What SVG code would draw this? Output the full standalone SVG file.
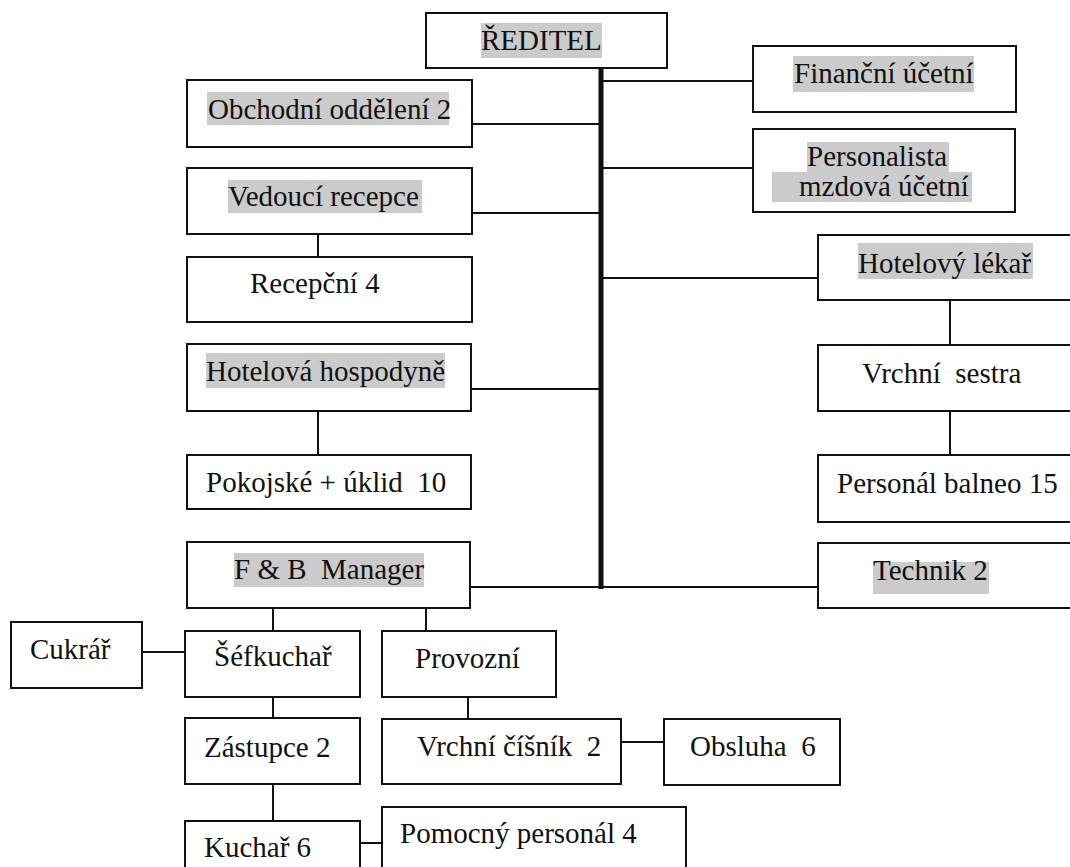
<svg xmlns="http://www.w3.org/2000/svg" width="1070" height="867" viewBox="0 0 1070 867">
<style>
.box{fill:#fff;stroke:#111;stroke-width:2}
.hl{fill:#cbcbcb}
text{font-family:"Liberation Serif","Times New Roman",serif;font-size:29px;fill:#111}
.c{stroke:#111;stroke-width:2;fill:none}
.thick{stroke:#111;stroke-width:5;fill:none}
</style>
<rect width="1070" height="867" fill="#fff"/>
<g id="connectors">
<line class="thick" x1="601" y1="68" x2="601" y2="589"/>
<line class="c" x1="601" y1="81" x2="753" y2="81"/>
<line class="c" x1="472" y1="124" x2="601" y2="124"/>
<line class="c" x1="601" y1="168" x2="753" y2="168"/>
<line class="c" x1="472" y1="213" x2="601" y2="213"/>
<line class="c" x1="601" y1="278" x2="818" y2="278"/>
<line class="c" x1="471" y1="389" x2="601" y2="389"/>
<line class="c" x1="470" y1="587" x2="818" y2="587"/>
<line class="c" x1="318" y1="234" x2="318" y2="257"/>
<line class="c" x1="318" y1="411" x2="318" y2="455"/>
<line class="c" x1="950" y1="300" x2="950" y2="345"/>
<line class="c" x1="950" y1="411" x2="950" y2="455"/>
<line class="c" x1="273" y1="608" x2="273" y2="631"/>
<line class="c" x1="426" y1="608" x2="426" y2="631"/>
<line class="c" x1="142" y1="652" x2="185" y2="652"/>
<line class="c" x1="273" y1="697" x2="273" y2="718"/>
<line class="c" x1="273" y1="784" x2="273" y2="821"/>
<line class="c" x1="468" y1="697" x2="468" y2="719"/>
<line class="c" x1="621" y1="742" x2="664" y2="742"/>
<line class="c" x1="360" y1="843" x2="382" y2="843"/>
</g>
<g id="reditel"><rect class="box" x="426" y="13" width="241" height="55"/><rect class="hl" x="481" y="23" width="121" height="35"/><text x="481" y="50">ŘEDITEL</text></g>
<g id="obchodni"><rect class="box" x="187" y="80" width="285" height="67"/><rect class="hl" x="207" y="92" width="242" height="33"/><text x="208" y="119">Obchodní oddělení 2</text></g>
<g id="vedouci-recepce"><rect class="box" x="187" y="168" width="285" height="66"/><rect class="hl" x="228" y="180" width="194" height="33"/><text x="228" y="206">Vedoucí recepce</text></g>
<g id="recepcni"><rect class="box" x="187" y="257" width="285" height="65"/><text x="250" y="293">Recepční 4</text></g>
<g id="hospodyne"><rect class="box" x="187" y="344" width="284" height="67"/><rect class="hl" x="206" y="353" width="239" height="35"/><text x="206" y="381">Hotelová hospodyně</text></g>
<g id="pokojske"><rect class="box" x="187" y="455" width="284" height="54"/><text x="206" y="492">Pokojské + úklid&#160; 10</text></g>
<g id="fb-manager"><rect class="box" x="187" y="542" width="283" height="66"/><rect class="hl" x="234" y="553" width="190" height="34"/><text x="234" y="579">F &amp; B&#160; Manager</text></g>
<g id="financni"><rect class="box" x="753" y="46" width="263" height="66"/><rect class="hl" x="793" y="56" width="181" height="36"/><text x="794" y="83">Finanční účetní</text></g>
<g id="personalista"><rect class="box" x="753" y="129" width="262" height="83"/><rect class="hl" x="807" y="142" width="142" height="30"/><rect class="hl" x="772" y="172" width="200" height="30"/><text x="807" y="166">Personalista</text><text x="799" y="196">mzdová účetní</text></g>
<g id="lekar"><rect class="box" x="818" y="235" width="270" height="65"/><rect class="hl" x="858" y="243" width="175" height="36"/><text x="858" y="273">Hotelový lékař</text></g>
<g id="sestra"><rect class="box" x="818" y="345" width="270" height="66"/><text x="862" y="383">Vrchní&#160; sestra</text></g>
<g id="balneo"><rect class="box" x="818" y="455" width="270" height="67"/><text x="837" y="493">Personál balneo 15</text></g>
<g id="technik"><rect class="box" x="818" y="543" width="270" height="65"/><rect class="hl" x="873" y="562" width="116" height="32"/><text x="873" y="580">Technik 2</text></g>
<g id="cukrar"><rect class="box" x="11" y="622" width="131" height="66"/><text x="30" y="659">Cukrář</text></g>
<g id="sefkuchar"><rect class="box" x="185" y="631" width="175" height="66"/><text x="214" y="666">Šéfkuchař</text></g>
<g id="provozni"><rect class="box" x="382" y="631" width="174" height="66"/><text x="415" y="668">Provozní</text></g>
<g id="zastupce"><rect class="box" x="185" y="718" width="175" height="66"/><text x="204" y="757">Zástupce 2</text></g>
<g id="vrchni-cisnik"><rect class="box" x="382" y="719" width="239" height="65"/><text x="417" y="756">Vrchní číšník&#160; 2</text></g>
<g id="obsluha"><rect class="box" x="664" y="719" width="176" height="66"/><text x="690" y="756">Obsluha&#160; 6</text></g>
<g id="kuchar"><rect class="box" x="185" y="821" width="175" height="60"/><text x="204" y="857">Kuchař 6</text></g>
<g id="pomocny"><rect class="box" x="382" y="807" width="304" height="73"/><text x="400" y="843">Pomocný personál 4</text></g>
</svg>
